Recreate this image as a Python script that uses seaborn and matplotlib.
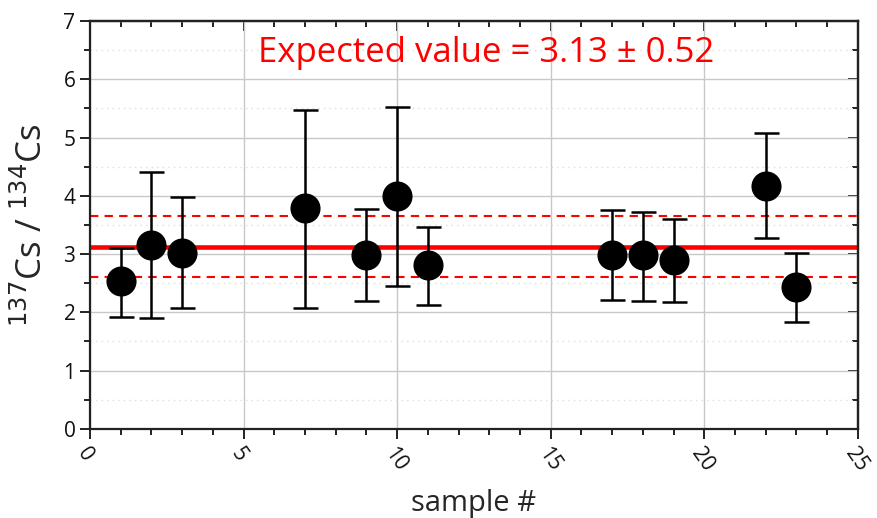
import numpy as np
import pandas as pd
import matplotlib
matplotlib.use("Agg")
import matplotlib.pyplot as plt
import seaborn as sns
from matplotlib.ticker import MultipleLocator, NullFormatter

# Data
sample = [1, 2, 3, 7, 9, 10, 11, 17, 18, 19, 22, 23]
ratio = [2.53, 3.16, 3.02, 3.79, 2.99, 4.00, 2.81, 2.99, 2.98, 2.89, 4.17, 2.43]
upper = [3.10, 4.41, 3.98, 5.48, 3.78, 5.53, 3.47, 3.76, 3.73, 3.61, 5.07, 3.02]
lower = [1.92, 1.91, 2.07, 2.07, 2.19, 2.45, 2.12, 2.21, 2.19, 2.17, 3.27, 1.84]
expected = 3.13
spread = 0.52

df = pd.DataFrame({"sample": sample, "ratio": ratio, "upper": upper, "lower": lower})

sns.set_style("ticks")
plt.rcParams["font.family"] = ["Open Sans", "DejaVu Sans"]

fig = plt.figure(figsize=(8.78, 5.18), dpi=100)
ax = fig.add_axes([0.1025, 0.172, 0.8745, 0.7875])

# grid
ax.xaxis.set_major_locator(MultipleLocator(5))
ax.xaxis.set_minor_locator(MultipleLocator(1))
ax.yaxis.set_major_locator(MultipleLocator(1))
ax.yaxis.set_minor_locator(MultipleLocator(0.5))
ax.grid(True, which="major", color="#c8c8c8", lw=1)
ax.grid(True, which="minor", axis="y", color="#dddddd", lw=1, ls=(0, (1, 3)))
ax.set_axisbelow(True)

# expected value lines
ax.axhline(expected, color="red", lw=3.3, zorder=2)
ax.axhline(expected + spread, color="red", lw=1.5, ls=(0, (4, 3)), zorder=2)
ax.axhline(expected - spread, color="red", lw=1.5, ls=(0, (4, 3)), zorder=2)

# error bars
yerr = [df["ratio"] - df["lower"], df["upper"] - df["ratio"]]
ax.errorbar(df["sample"], df["ratio"], yerr=yerr, fmt="none", ecolor="black",
            elinewidth=1.8, capsize=9, capthick=1.8, zorder=3)

sns.scatterplot(data=df, x="sample", y="ratio", ax=ax, color="black",
                s=470, edgecolor="black", linewidth=0, zorder=4, legend=False)

ax.set_xlim(0, 25)
ax.set_ylim(0, 7)

ax.text(12.9, 6.45, "Expected value = 3.13 ± 0.52", color="red", fontsize=25,
        ha="center", va="center")

ax.set_xlabel("sample #", fontsize=21, labelpad=10)
ax.set_ylabel(r"$^{137}$Cs / $^{134}$Cs", fontsize=25, labelpad=10)

for s in ax.spines.values():
    s.set_linewidth(1.6)
    s.set_color("#222222")

# bottom / left ticks point outward
ax.tick_params(axis="both", which="both", width=1.4, color="#222222",
               labelcolor="#111111", direction="out")
ax.tick_params(axis="both", which="major", length=7, labelsize=15)
ax.tick_params(axis="both", which="minor", length=4)

# top / right ticks point inward, no labels
top = ax.secondary_xaxis("top")
top.xaxis.set_major_locator(MultipleLocator(5))
top.xaxis.set_minor_locator(MultipleLocator(1))
top.xaxis.set_major_formatter(NullFormatter())
top.tick_params(which="both", direction="in", width=1.4, color="#222222")
top.tick_params(which="major", length=7)
top.tick_params(which="minor", length=4)
right = ax.secondary_yaxis("right")
right.yaxis.set_major_locator(MultipleLocator(1))
right.yaxis.set_minor_locator(MultipleLocator(0.5))
right.yaxis.set_major_formatter(NullFormatter())
right.tick_params(which="both", direction="in", width=1.4, color="#222222")
right.tick_params(which="major", length=7)
right.tick_params(which="minor", length=4)
for a in (top, right):
    for s in a.spines.values():
        s.set_linewidth(1.6)
        s.set_color("#222222")

for lab in ax.get_xticklabels():
    lab.set_rotation(-55)
    lab.set_ha("left")
    lab.set_rotation_mode("anchor")

fig.savefig("out.png", dpi=100)
